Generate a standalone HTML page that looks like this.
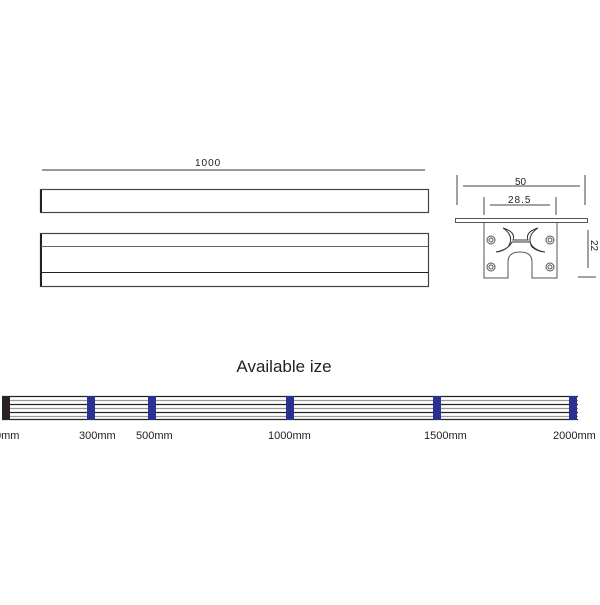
<!DOCTYPE html>
<html><head><style>body{margin:0;background:#fff}</style></head><body>
<svg width="600" height="600" xmlns="http://www.w3.org/2000/svg" font-family="Liberation Sans, sans-serif">
<rect width="600" height="600" fill="#fff"/>
<line x1="42" y1="170" x2="425" y2="170" stroke="#333" stroke-width="1"/>
<text x="195" y="166" font-size="10" fill="#222" letter-spacing="1">1000</text>
<rect x="40.5" y="189.5" width="388" height="23" fill="#fff" stroke="#444" stroke-width="1.2"/>
<line x1="41" y1="190" x2="41" y2="212" stroke="#222" stroke-width="2"/>
<rect x="40.5" y="233.5" width="388" height="53" fill="#fff" stroke="#444" stroke-width="1.2"/>
<line x1="41" y1="234" x2="41" y2="286" stroke="#222" stroke-width="2"/>
<line x1="41" y1="246.5" x2="428" y2="246.5" stroke="#666"/>
<line x1="41" y1="272.5" x2="428" y2="272.5" stroke="#222"/>
<line x1="457" y1="175" x2="457" y2="205" stroke="#444"/>
<line x1="585" y1="175" x2="585" y2="205" stroke="#444"/>
<line x1="463" y1="186" x2="580" y2="186" stroke="#444"/>
<text x="515" y="185" font-size="10" fill="#222">50</text>
<line x1="484" y1="197" x2="484" y2="215" stroke="#444"/>
<line x1="556" y1="197" x2="556" y2="215" stroke="#444"/>
<line x1="490" y1="205" x2="550" y2="205" stroke="#444"/>
<text x="508" y="203" font-size="10" fill="#222" letter-spacing="1">28.5</text>
<line x1="588" y1="230" x2="588" y2="268" stroke="#444"/>
<line x1="578" y1="277" x2="596" y2="277" stroke="#444"/>
<text x="591" y="240" font-size="10" fill="#222" transform="rotate(90 591 240)">22</text>
<rect x="455.5" y="218.5" width="132" height="4" fill="#fff" stroke="#555"/>
<path d="M484 223 L484 278 L508 278 L508 262 Q508 252 520 252 Q532 252 532 262 L532 278 L557 278 L557 223" fill="#fff" stroke="#555"/>
<path d="M503 228 Q515 236 508 247 Q502 252 496 252 Q508 250 512 242 L530 242 Q533 250 545 252 Q538 252 532 247 Q526 236 538 228 Q525 232 528 240 L513 240 Q516 232 503 228Z" fill="#fff" stroke="#333"/>
<g fill="none" stroke="#555"><circle cx="491" cy="240" r="4"/><circle cx="491" cy="240" r="2"/><circle cx="550" cy="240" r="4"/><circle cx="550" cy="240" r="2"/><circle cx="491" cy="267" r="4"/><circle cx="491" cy="267" r="2"/><circle cx="550" cy="267" r="4"/><circle cx="550" cy="267" r="2"/></g>
<text x="284" y="372" font-size="17" fill="#222" text-anchor="middle">Available ize</text>
<g stroke-width="1.3">
<line x1="2" y1="396.5" x2="578" y2="396.5" stroke="#222"/>
<line x1="2" y1="400.5" x2="578" y2="400.5" stroke="#999"/>
<line x1="2" y1="404.5" x2="578" y2="404.5" stroke="#222"/>
<line x1="2" y1="408.5" x2="578" y2="408.5" stroke="#999"/>
<line x1="2" y1="412.5" x2="578" y2="412.5" stroke="#222"/>
<line x1="2" y1="416.5" x2="578" y2="416.5" stroke="#999"/>
<line x1="2" y1="419.5" x2="578" y2="419.5" stroke="#222"/>
</g>
<rect x="2" y="396" width="8" height="24" fill="#2a2224"/>
<g fill="#2b2f8f">
<rect x="87" y="396" width="8" height="24"/>
<rect x="148" y="396" width="8" height="24"/>
<rect x="286" y="396" width="8" height="24"/>
<rect x="433" y="396" width="8" height="24"/>
<rect x="569" y="396" width="8" height="24"/>
</g>
<g font-size="11" fill="#222">
<text x="-5" y="439">0mm</text>
<text x="79" y="439">300mm</text>
<text x="136" y="439">500mm</text>
<text x="268" y="439">1000mm</text>
<text x="424" y="439">1500mm</text>
<text x="553" y="439">2000mm</text>
</g>
</svg>
</body></html>
